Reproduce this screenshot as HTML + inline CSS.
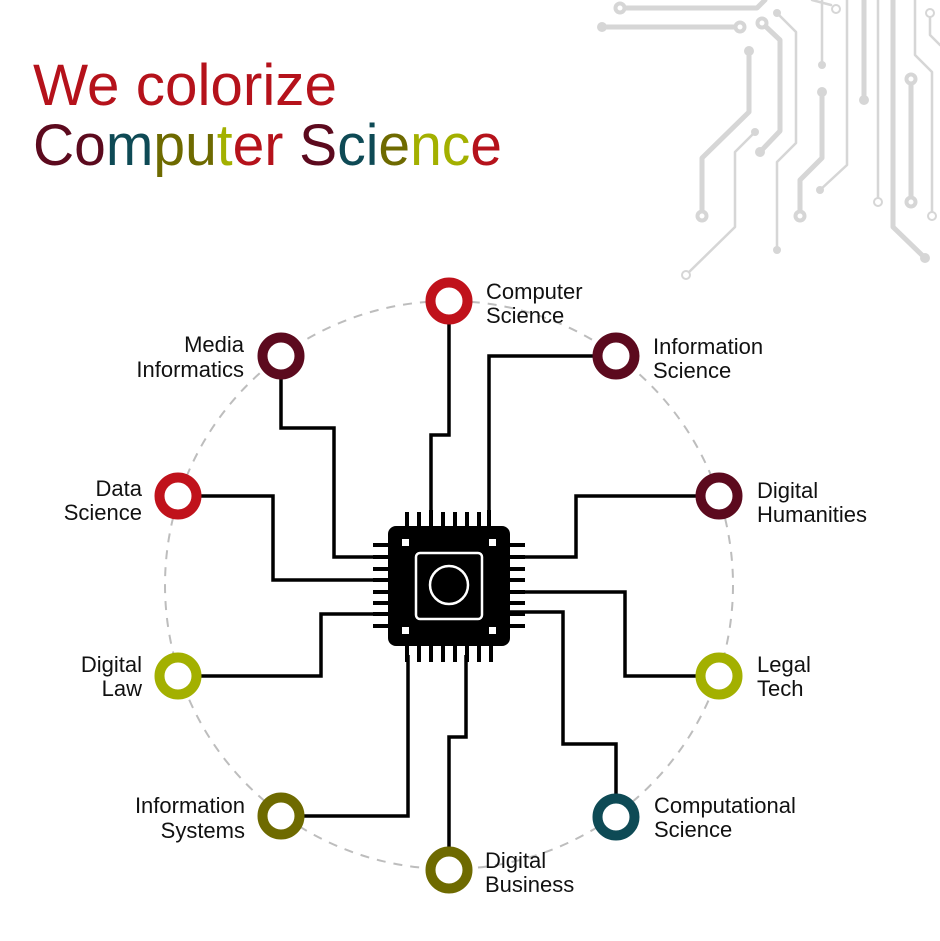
<!DOCTYPE html>
<html><head><meta charset="utf-8"><style>
html,body{margin:0;padding:0;background:#fff;}
svg{display:block;font-family:"Liberation Sans",sans-serif;}
</style></head><body>
<svg width="940" height="941" viewBox="0 0 940 941" xmlns="http://www.w3.org/2000/svg">
<g fill="none" stroke="#d6d6d6" stroke-linecap="round" stroke-linejoin="round">
 <g stroke-width="5">
  <polyline points="620,8 757,8 765,0"/>
  <line x1="602" y1="27" x2="740" y2="27"/>
  <polyline points="762,23 780,40 780,131 760,152"/>
  <polyline points="749,51 749,112 702,158 702,216"/>
  <polyline points="822,92 822,158 800,180 800,216"/>
  <line x1="864" y1="0" x2="864" y2="100"/>
  <polyline points="893,0 893,227 925,258"/>
  <line x1="911" y1="79" x2="911" y2="202"/>
 </g>
 <g stroke-width="2.5">
  <polyline points="777,13 796,32 796,143 777,162 777,250"/>
  <polyline points="755,132 735,152 735,227 686,275"/>
  <polyline points="822,0 822,65"/>
  <line x1="812" y1="0" x2="831" y2="5"/>
  <polyline points="847,0 847,165 820,190"/>
  <line x1="878" y1="0" x2="878" y2="198"/>
  <polyline points="915,0 915,55 932,72 932,212"/>
  <polyline points="930,17 930,35 940,45"/>
 </g>
</g>
<g fill="#d6d6d6">
 <circle cx="602" cy="27" r="5"/><circle cx="760" cy="152" r="5"/><circle cx="749" cy="51" r="5"/>
 <circle cx="777" cy="13" r="4"/><circle cx="777" cy="250" r="4"/><circle cx="755" cy="132" r="4"/>
 <circle cx="822" cy="65" r="4"/><circle cx="822" cy="92" r="5"/><circle cx="820" cy="190" r="4"/>
 <circle cx="864" cy="100" r="5"/><circle cx="925" cy="258" r="5"/>
</g>
<g fill="#fff" stroke="#d6d6d6" stroke-width="4">
 <circle cx="620" cy="8" r="4.5"/><circle cx="740" cy="27" r="4.5"/><circle cx="762" cy="23" r="4.5"/>
 <circle cx="702" cy="216" r="4.5"/><circle cx="800" cy="216" r="4.5"/><circle cx="911" cy="79" r="4.5"/><circle cx="911" cy="202" r="4.5"/>
</g>
<g fill="#fff" stroke="#d6d6d6" stroke-width="2">
 <circle cx="686" cy="275" r="4"/><circle cx="836" cy="9" r="4"/><circle cx="878" cy="202" r="4"/><circle cx="932" cy="216" r="4"/><circle cx="930" cy="13" r="4"/>
</g>

<text x="33" y="105" font-size="58" fill="#b5121b" textLength="304" lengthAdjust="spacingAndGlyphs">We colorize</text>
<text x="33" y="165" font-size="58" textLength="469" lengthAdjust="spacingAndGlyphs"><tspan fill="#5c0a1e">Co</tspan><tspan fill="#0e4a55">m</tspan><tspan fill="#6e6a00">pu</tspan><tspan fill="#a3b000">t</tspan><tspan fill="#b5121b">er </tspan><tspan fill="#5c0a1e">S</tspan><tspan fill="#0e4a55">ci</tspan><tspan fill="#6e6a00">e</tspan><tspan fill="#a3b000">nc</tspan><tspan fill="#b5121b">e</tspan></text>

<circle cx="449" cy="585" r="284" fill="none" stroke="#bdbdbd" stroke-width="2" stroke-dasharray="9,8"/>

<g fill="none" stroke="#000" stroke-width="3.5" stroke-linejoin="miter">
 <polyline points="449,320 449,435 431,435 431,515"/>
 <polyline points="597,356 489,356 489,515"/>
 <polyline points="700,496 576,496 576,557 505,557"/>
 <polyline points="700,676 625,676 625,592 505,592"/>
 <polyline points="616,797 616,744 563,744 563,612 505,612"/>
 <polyline points="449,850 449,737 466,737 466,655"/>
 <polyline points="300,816 408,816 408,655"/>
 <polyline points="197,676 321,676 321,614 392,614"/>
 <polyline points="197,496 273,496 273,580 392,580"/>
 <polyline points="281,375 281,428 334,428 334,557 392,557"/>
</g>

<g stroke="#000" stroke-width="4" stroke-linecap="butt">
 <line x1="407" y1="512" x2="407" y2="530"/><line x1="419" y1="512" x2="419" y2="530"/><line x1="431" y1="510" x2="431" y2="530"/><line x1="443" y1="512" x2="443" y2="530"/><line x1="455" y1="512" x2="455" y2="530"/><line x1="467" y1="512" x2="467" y2="530"/><line x1="479" y1="512" x2="479" y2="530"/><line x1="489" y1="510" x2="489" y2="530"/>
 <line x1="407" y1="642" x2="407" y2="662"/><line x1="419" y1="642" x2="419" y2="662"/><line x1="431" y1="642" x2="431" y2="662"/><line x1="443" y1="642" x2="443" y2="662"/><line x1="455" y1="642" x2="455" y2="662"/><line x1="467" y1="642" x2="467" y2="662"/><line x1="479" y1="642" x2="479" y2="662"/><line x1="491" y1="642" x2="491" y2="662"/>
 <line x1="373" y1="545" x2="392" y2="545"/><line x1="373" y1="557" x2="392" y2="557"/><line x1="373" y1="569" x2="392" y2="569"/><line x1="373" y1="580" x2="392" y2="580"/><line x1="373" y1="592" x2="392" y2="592"/><line x1="373" y1="603" x2="392" y2="603"/><line x1="373" y1="614" x2="392" y2="614"/><line x1="373" y1="626" x2="392" y2="626"/>
 <line x1="505" y1="545" x2="525" y2="545"/><line x1="505" y1="557" x2="525" y2="557"/><line x1="505" y1="569" x2="525" y2="569"/><line x1="505" y1="580" x2="525" y2="580"/><line x1="505" y1="592" x2="525" y2="592"/><line x1="505" y1="603" x2="525" y2="603"/><line x1="505" y1="614" x2="525" y2="614"/><line x1="505" y1="626" x2="525" y2="626"/>
</g>
<rect x="388" y="526" width="122" height="120" rx="8" fill="#000"/>
<rect x="402" y="539" width="7" height="7" fill="#fff"/><rect x="489" y="539" width="7" height="7" fill="#fff"/>
<rect x="402" y="627" width="7" height="7" fill="#fff"/><rect x="489" y="627" width="7" height="7" fill="#fff"/>
<rect x="416" y="553" width="66" height="66" rx="4" fill="none" stroke="#fff" stroke-width="2.5"/>
<circle cx="449" cy="585" r="19" fill="none" stroke="#fff" stroke-width="2.5"/>

<g fill="#fff" stroke-width="10">
 <circle cx="449" cy="301" r="18.5" stroke="#c0121b"/>
 <circle cx="616" cy="356" r="18.5" stroke="#5c0a1e"/>
 <circle cx="719" cy="496" r="18.5" stroke="#5c0a1e"/>
 <circle cx="719" cy="676" r="18.5" stroke="#a3b000"/>
 <circle cx="616" cy="817" r="18.5" stroke="#0e4a55"/>
 <circle cx="449" cy="870" r="18.5" stroke="#6e6a00"/>
 <circle cx="281" cy="816" r="18.5" stroke="#6e6a00"/>
 <circle cx="178" cy="676" r="18.5" stroke="#a3b000"/>
 <circle cx="178" cy="496" r="18.5" stroke="#c0121b"/>
 <circle cx="281" cy="356" r="18.5" stroke="#5c0a1e"/>
</g>

<g font-size="22" fill="#111">
 <text x="486" y="299">Computer</text><text x="486" y="323">Science</text>
 <text x="653" y="354">Information</text><text x="653" y="378">Science</text>
 <text x="757" y="498">Digital</text><text x="757" y="522">Humanities</text>
 <text x="757" y="672">Legal</text><text x="757" y="696">Tech</text>
 <text x="654" y="813">Computational</text><text x="654" y="837">Science</text>
 <text x="485" y="868">Digital</text><text x="485" y="892">Business</text>
</g>
<g font-size="22" fill="#111" text-anchor="end">
 <text x="245" y="813">Information</text><text x="245" y="838">Systems</text>
 <text x="142" y="672">Digital</text><text x="142" y="696">Law</text>
 <text x="142" y="496">Data</text><text x="142" y="520">Science</text>
 <text x="244" y="352">Media</text><text x="244" y="377">Informatics</text>
</g>
</svg>
</body></html>
